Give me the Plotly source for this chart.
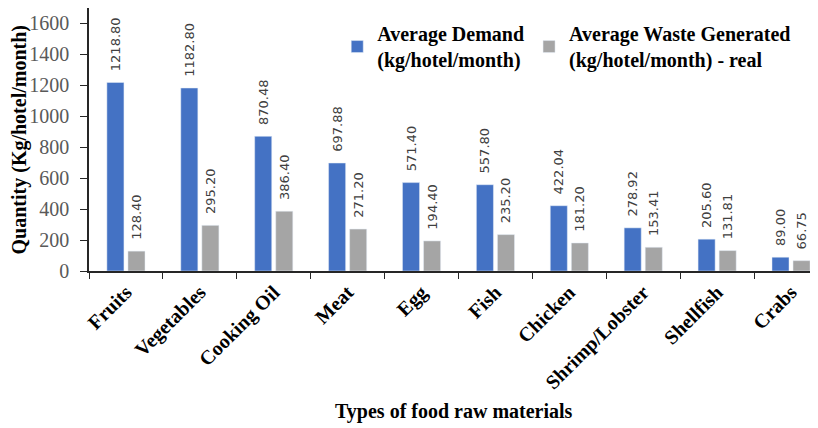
import plotly.graph_objects as go

categories = ["Fruits", "Vegetables", "Cooking Oil", "Meat", "Egg", "Fish",
              "Chicken", "Shrimp/Lobster", "Shellfish", "Crabs"]
demand = [1218.80, 1182.80, 870.48, 697.88, 571.40, 557.80, 422.04, 278.92, 205.60, 89.00]
waste = [128.40, 295.20, 386.40, 271.20, 194.40, 235.20, 181.20, 153.41, 131.81, 66.75]
y_ticks = [0, 200, 400, 600, 800, 1000, 1200, 1400, 1600]

label_font = dict(family="DejaVu Sans", size=13, color="#404040")
serif_bold = "Liberation Serif"

fig = go.Figure()
fig.add_trace(go.Bar(
    x=categories, y=demand, name="<b>Average Demand<br>(kg/hotel/month)</b>",
    marker=dict(color="#4472C4"),
    texttemplate="\u00a0\u00a0%{y:.2f}", textposition="outside", textangle=-90,
    textfont=label_font, constraintext="none", cliponaxis=False,
))
fig.add_trace(go.Bar(
    x=categories, y=waste, name="<b>Average Waste Generated<br>(kg/hotel/month) - real</b>",
    marker=dict(color="#A5A5A5"),
    texttemplate="\u00a0\u00a0%{y:.2f}", textposition="outside", textangle=-90,
    textfont=label_font, constraintext="none", cliponaxis=False,
))

# the page body adds an 8px offset, so the figure is 810x420
fig.update_layout(
    width=810, height=420,
    margin=dict(l=81, r=0, t=0, b=157, autoexpand=False),
    paper_bgcolor="white", plot_bgcolor="white",
    barmode="group", bargap=0.43, bargroupgap=0.19,
    showlegend=True,
    legend=dict(orientation="h", x=0.3405, xanchor="left", y=0.977, yanchor="top",
                font=dict(family=serif_bold, size=20, color="black"),
                bgcolor="rgba(0,0,0,0)", traceorder="normal"),
    xaxis=dict(
        range=[-0.5, 9.365], tickangle=-45, showline=True, linecolor="#262626", linewidth=1.5,
        mirror=True, ticks="outside", ticklen=6, tickcolor="#262626", tickson="boundaries",
        tickfont=dict(family=serif_bold, size=20, color="black"), automargin=False,
        tickprefix="<b>", ticksuffix="</b>", showgrid=False,
    ),
    yaxis=dict(
        range=[0, 1700], tickvals=y_ticks, showline=True, linecolor="#262626", linewidth=1.5,
        ticks="outside", ticklen=7, tickcolor="#262626", showgrid=False, zeroline=False,
        tickfont=dict(family=serif_bold, size=20, color="#595959"), automargin=False,
        ticklabelstandoff=7,
        tickprefix="<b>", ticksuffix="</b>",
    ),
    annotations=[
        dict(text="<b>Types of food raw materials</b>", xref="paper", yref="paper",
             x=0.5, y=-0.536, xanchor="center", yanchor="middle", showarrow=False,
             font=dict(family=serif_bold, size=20, color="black")),
        dict(text="<b>Quantity (Kg/hotel/month)</b>", xref="paper", yref="paper",
             x=-0.0947, y=0.5, xanchor="center", yanchor="middle", textangle=-90, showarrow=False,
             font=dict(family=serif_bold, size=20, color="black")),
    ],
)

fig.write_html("out.html")
